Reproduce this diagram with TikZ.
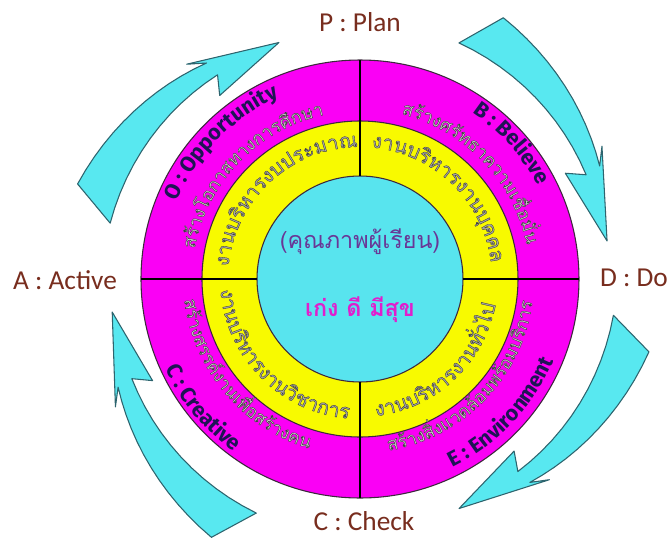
\documentclass[tikz,border=0pt]{standalone}
\usepackage{fontspec}
\usepackage{tikz}
\usetikzlibrary{decorations.text}
\setmainfont{Carlito}
\newfontfamily\thaifont[Script=Thai]{Loma}
\newfontfamily\ringfont{Fira Sans}
\definecolor{ringmagenta}{RGB}{250,0,245}
\definecolor{ringyellow}{RGB}{248,250,0}
\definecolor{corecyan}{RGB}{88,228,238}
\definecolor{arrowcyan}{RGB}{88,232,240}
\definecolor{arrowedge}{RGB}{45,100,110}
\definecolor{ringedge}{RGB}{60,40,60}
\definecolor{ringnavy}{RGB}{30,20,85}
\definecolor{outergray}{RGB}{205,205,205}
\definecolor{innergray}{RGB}{170,170,170}
\definecolor{labelbrown}{RGB}{120,45,30}
\definecolor{qualitypurple}{RGB}{105,55,150}
\definecolor{mottopink}{RGB}{225,30,205}
% outlined grey Thai, like the word-art of the poster
\newcommand{\outline}{\special{pdf:code 2 Tr 0.3 w 0.25 G}}
\newcommand{\ringen}{\ringfont\bfseries\fontsize{16}{16}\selectfont\color{ringnavy}}
\newcommand{\ringth}{\thaifont\fontsize{13.5}{14}\selectfont\color{outergray}\outline}
\newcommand{\yellowth}{\thaifont\fontsize{15}{15}\selectfont\color{innergray}\outline}
\tikzset{%
	ringline/.style  = {draw=ringedge, line width=0.8pt},
	quadline/.style  = {draw=black, line width=1.5pt},
	cyclearrow/.style = {draw=arrowedge, fill=arrowcyan, line width=0.8pt, line join=round},
	steplabel/.style = {text=labelbrown, font=\fontsize{20.5}{22}\selectfont, inner sep=0pt},
	ringtext/.style  = {decorate, decoration={text along path, text align=center, text={#1}}},
}
\begin{document}
\begin{tikzpicture}[x=0.75pt,y=0.75pt]
		\useasboundingbox (-360,-258) rectangle (309,279);
		% cycle arrows
		\foreach \t in {64.25,164.4,243.1,348.85}
			\draw[cyclearrow] (\t+3:256) -- (\t-3:298)
				-- plot[variable=\a, domain=-3:-39, samples=13] ({\t+\a}:{298+(\a+3)*33/36})
				-- (\t-35.5:276) -- (\t-55.5:250) -- (\t-37:231) -- (\t-39.5:249)
				-- plot[variable=\a, domain=-39.5:3, samples=13] ({\t+\a}:{249+(\a+39.5)*7/42.5})
				-- cycle;
		
		% rings
		\filldraw[ringline, fill=ringmagenta] (0,0) circle (219);
		\filldraw[ringline, fill=ringyellow] (0,0) circle (158);
		\filldraw[ringline, fill=corecyan] (0,0) circle (103);
		\draw[quadline] (0,103) -- (0,219);
		\draw[quadline] (0,-103) -- (0,-219);
		\draw[quadline] (-103,0) -- (-219,0);
		\draw[quadline] (103,0) -- (219,0);
		
		% outer ring, top half
		\path[ringtext={|\ringen|O : Opportunity}] (185.5:199) arc[start angle=185.5, end angle=85.5, radius=199];
		\path[ringtext={|\ringth|ส{ร้}างโอกาสทางการ{ศึ}กษา}] (196:168) arc[start angle=196, end angle=76, radius=168];
		\path[ringtext={|\ringen|B : Believe}] (91.8:201) arc[start angle=91.8, end angle=-8.2, radius=201];
		\path[ringtext={|\ringth|ส{ร้}างศ{รั}ทธาความเ{ชื่}อ{มั่}น}] (103.75:170) arc[start angle=103.75, end angle=-16.25, radius=170];
		% outer ring, bottom half
		\path[ringtext={|\ringth|ส{ร้}างสรร{ค์}งานเ{พื่}อส{ร้}างคน}] (160:177) arc[start angle=160, end angle=280, radius=177];
		\path[ringtext={|\ringen|C : Creative}] (169.4:214) arc[start angle=169.4, end angle=269.4, radius=214];
		\path[ringtext={|\ringth|ส{ร้}าง{สิ่}งแวด{ล้}อมพ{ร้}อมบ{ริ}การ}] (256:174) arc[start angle=256, end angle=376, radius=174];
		\path[ringtext={|\ringen|E : Environment}] (266.6:210) arc[start angle=266.6, end angle=366.6, radius=210];
		
		% yellow ring
		\path[ringtext={|\yellowth|งานบ{ริ}หารงบประมาณ}] (192.75:132) arc[start angle=192.75, end angle=72.75, radius=132];
		\path[ringtext={|\yellowth|งานบ{ริ}หารงาน{บุ}คคล}] (106:132) arc[start angle=106, end angle=-14, radius=132];
		\path[ringtext={|\yellowth|งานบ{ริ}หารงาน{วิ}ชาการ}] (165:140) arc[start angle=165, end angle=285, radius=140];
		\path[ringtext={|\yellowth|งานบ{ริ}หารงาน{ทั่}วไป}] (253:138) arc[start angle=253, end angle=373, radius=138];
		
		% centre
		\node[text=qualitypurple, font=\thaifont\fontsize{17.5}{20}\selectfont] (quality) at (0,37) {(คุณภาพผู้เรียน)};
		\node[text=mottopink, font=\thaifont\bfseries\fontsize{17.5}{20}\selectfont] (motto) at (0,-31) {เก่ง ดี มีสุข};
		
		% PDCA labels
		\node[steplabel] (plan) at (0,257) {P : Plan};
		\node[steplabel] (active) at (-295,-1) {A : Active};
		\node[steplabel] (do) at (274,1) {D : Do};
		\node[steplabel] (check) at (4,-242) {C : Check};
	\end{tikzpicture}
\end{document}
